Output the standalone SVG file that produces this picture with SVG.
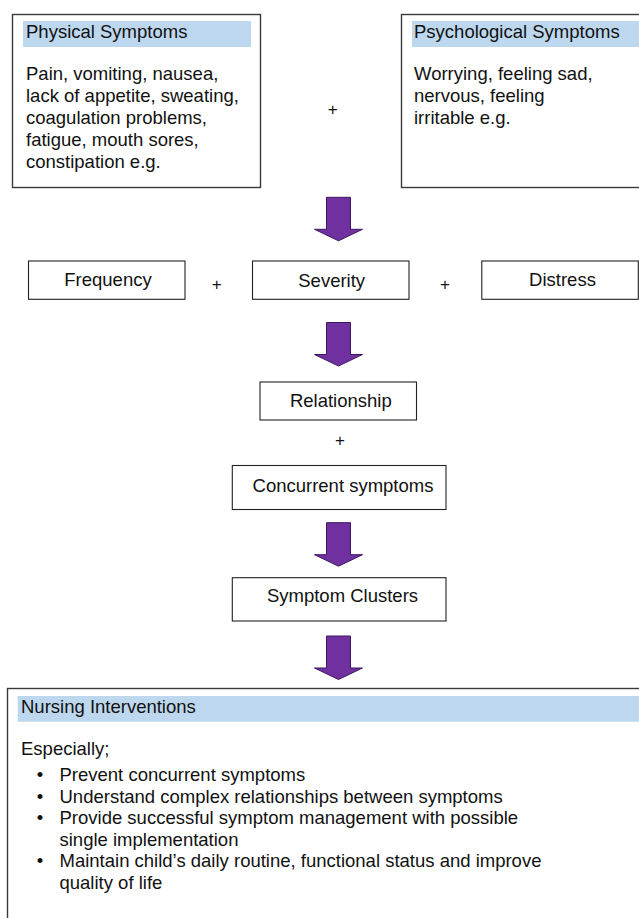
<svg xmlns="http://www.w3.org/2000/svg" width="639" height="918" viewBox="0 0 639 918">
<defs>
<style>
text{font-family:"Liberation Sans",Arial,sans-serif;font-size:18.5px;fill:#111}
.mid{text-anchor:middle}
.plus{font-size:17px;text-anchor:middle}
.big{fill:#fff;stroke:#3a3a3a;stroke-width:1.4}
.box{fill:#fff;stroke:#222;stroke-width:1.1}
.hdr{fill:#bdd7ee}
.arrow{fill:#7030a0;stroke:#3d1860;stroke-width:1}
</style>
<path id="arr" class="arrow" d="M-12,0 H12 V32 H24 L0,43.5 L-24,32 H-12 Z"/>
</defs>

<g id="physical">
<rect class="big" x="12.5" y="14.5" width="248" height="173"/>
<rect class="hdr" x="23" y="21" width="228" height="26"/>
<text x="26" y="38">Physical Symptoms</text>
<text x="26" y="80">Pain, vomiting, nausea,</text>
<text x="26" y="101.9">lack of appetite, sweating,</text>
<text x="26" y="123.8">coagulation problems,</text>
<text x="26" y="145.7">fatigue, mouth sores,</text>
<text x="26" y="167.6">constipation e.g.</text>
</g>

<g id="plus1"><text class="plus" x="332.7" y="114.5">+</text></g>

<g id="psychological">
<rect class="big" x="401.5" y="14.5" width="250" height="173"/>
<rect class="hdr" x="412" y="21" width="240" height="26"/>
<text x="414" y="38">Psychological Symptoms</text>
<text x="414" y="80">Worrying, feeling sad,</text>
<text x="414" y="101.9">nervous, feeling</text>
<text x="414" y="123.8">irritable e.g.</text>
</g>

<g id="connectors">
<use href="#arr" x="338.5" y="197.3"/>
<use href="#arr" x="338.5" y="322.5"/>
<use href="#arr" x="338.5" y="522.7"/>
<use href="#arr" x="338.5" y="636"/>
</g>

<g id="frequency">
<rect class="box" x="28.5" y="261" width="156.5" height="38.3"/>
<text class="mid" x="108" y="286">Frequency</text>
</g>
<g id="plus2"><text class="plus" x="216.7" y="290">+</text></g>
<g id="severity">
<rect class="box" x="252.5" y="261" width="156.5" height="38.3"/>
<text class="mid" x="331.7" y="286.5">Severity</text>
</g>
<g id="plus3"><text class="plus" x="445" y="290">+</text></g>
<g id="distress">
<rect class="box" x="481.8" y="261" width="156.5" height="38.3"/>
<text class="mid" x="562.5" y="286">Distress</text>
</g>

<g id="relationship">
<rect class="box" x="260" y="382" width="156.5" height="38"/>
<text class="mid" x="340.8" y="406.7">Relationship</text>
</g>
<g id="plus4"><text class="plus" x="340" y="446">+</text></g>
<g id="concurrent">
<rect class="box" x="232.3" y="465.5" width="213.7" height="44"/>
<text class="mid" x="343" y="491.7">Concurrent symptoms</text>
</g>
<g id="clusters">
<rect class="box" x="232.3" y="577.7" width="213.7" height="43.3"/>
<text class="mid" x="342.5" y="601.7">Symptom Clusters</text>
</g>

<g id="nursing">
<rect class="big" x="7.5" y="688.5" width="650" height="250"/>
<rect class="hdr" x="17.7" y="696" width="630" height="25.7"/>
<text x="21" y="713">Nursing Interventions</text>
<text x="21" y="755">Especially;</text>
<text class="mid" x="40" y="781">•</text>
<text x="59.5" y="781">Prevent concurrent symptoms</text>
<text class="mid" x="40" y="802.5">•</text>
<text x="59.5" y="802.5">Understand complex relationships between symptoms</text>
<text class="mid" x="40" y="824">•</text>
<text x="59.5" y="824">Provide successful symptom management with possible</text>
<text x="59.5" y="845.5">single implementation</text>
<text class="mid" x="40" y="867">•</text>
<text x="59.5" y="867">Maintain child’s daily routine, functional status and improve</text>
<text x="59.5" y="888.5">quality of life</text>
</g>
</svg>
